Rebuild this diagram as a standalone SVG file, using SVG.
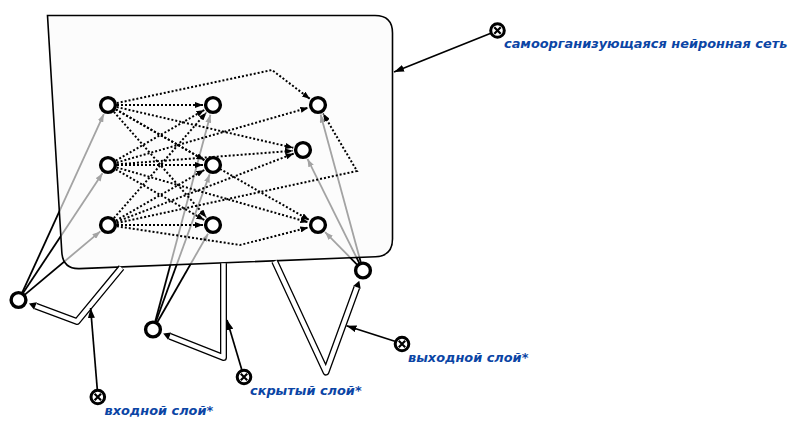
<svg xmlns="http://www.w3.org/2000/svg" width="798" height="427" viewBox="0 0 798 427">
<style>
.ext{stroke:#000;stroke-width:1.8;fill:none;marker-end:url(#ah)}
.dot{stroke:#000;stroke-width:2;stroke-dasharray:2 2;fill:none;marker-end:url(#ah)}
.lbl{stroke:#000;stroke-width:1.7;fill:none;marker-end:url(#ahL)}
.tubeO{stroke:#000;stroke-width:7;fill:none;stroke-linejoin:round;marker-end:url(#ahT)}
.tubeI{stroke:#fff;stroke-width:4.4;fill:none;stroke-linejoin:round}
.neuron{fill:#fff;stroke:#000;stroke-width:3.4}
.xring{fill:#fff;stroke:#000;stroke-width:3}
.xmark{stroke:#000;stroke-width:2.2}
.txt{font-family:"DejaVu Sans",sans-serif;font-weight:bold;font-style:italic;font-size:12.9px;fill:#0b45a5}
</style>
<defs>
<marker id="ah" viewBox="0 0 8 6" refX="8" refY="3" markerWidth="8" markerHeight="6" markerUnits="userSpaceOnUse" orient="auto"><path d="M0,0L8,3L0,6z" fill="#000"/></marker>
<marker id="ahL" viewBox="0 0 10 7" refX="10" refY="3.5" markerWidth="10" markerHeight="7" markerUnits="userSpaceOnUse" orient="auto"><path d="M0,0L10,3.5L0,7z" fill="#000"/></marker>
<marker id="ahT" viewBox="0 0 7 8" refX="0" refY="4" markerWidth="7" markerHeight="8" markerUnits="userSpaceOnUse" orient="auto"><path d="M0,0L7,4L0,8z" fill="#000"/></marker>
</defs>

<g id="external-links">
<path class="ext" d="M22.2,292.7L103.8,114.1"/>
<path class="ext" d="M22.9,293.3L102.5,173.3"/>
<path class="ext" d="M24.6,294.9L100.3,231.4"/>
<path class="ext" d="M155.1,322L210.4,114.7"/>
<path class="ext" d="M155.7,322.3L209.6,174.4"/>
<path class="ext" d="M157,322.8L208,233.7"/>
<path class="ext" d="M360.9,262.8L320.6,114.6"/>
<path class="ext" d="M359.4,263.3L307.5,158.9"/>
<path class="ext" d="M357.3,264.8L325.1,232.1"/>
</g>

<g id="som-network">
<path d="M47.5,15.5L375,15.5Q392.5,15.5 392.5,33L392.5,239Q392.5,256 375.5,256.8L79.5,268.6Q62.8,269.2 61.8,252Z" fill="#fbfbfb" fill-opacity="0.65" stroke="#000" stroke-width="1.6"/>
</g>

<g id="connectors">
<path class="dot" d="M117,105L203,105"/>
<path class="dot" d="M115.8,109.5L204.3,160"/>
<path class="dot" d="M113.9,111.8L206.4,217.5"/>
<path class="dot" d="M116.8,103.1L272,70L310,98.9"/>
<path class="dot" d="M116.8,107L293.3,147.8"/>
<path class="dot" d="M115.8,109.5L309.3,220"/>
<path class="dot" d="M115.8,160.5L204.3,110"/>
<path class="dot" d="M117,165L203,165"/>
<path class="dot" d="M115.8,169.5L204.3,220"/>
<path class="dot" d="M116.7,162.5L308.4,107.7"/>
<path class="dot" d="M117,164.3L293,150.8"/>
<path class="dot" d="M116.7,167.5L308.4,222.3"/>
<path class="dot" d="M113.9,218.2L206.4,112.5"/>
<path class="dot" d="M115.8,220.5L204.3,170"/>
<path class="dot" d="M117,225L203,225"/>
<path class="dot" d="M116.8,223.1L357,171L323.1,113.6"/>
<path class="dot" d="M116.4,221.8L293.7,153.6"/>
<path class="dot" d="M116.9,226.3L240,245L308.3,227.5"/>

<path class="tubeO" d="M121.5,267.6L77,321.5L35.5,306"/>
<path class="tubeI" d="M121.5,267.6L77,321.5L35.5,306"/>
<path class="tubeO" d="M223.5,263.3L223.5,357.5L169.7,336.2"/>
<path class="tubeI" d="M223.5,263.3L223.5,357.5L169.7,336.2"/>
<path class="tubeO" d="M274.6,261.2L326,372L356.9,287.3"/>
<path class="tubeI" d="M274.6,261.2L326,372L356.9,287.3"/>

<path class="lbl" d="M490.8,33.3L394,72"/>
<path class="lbl" d="M97.3,389.5L90.6,308"/>
<path class="lbl" d="M241.8,369.8L227,320"/>
<path class="lbl" d="M394.8,341.2L346.5,325.8"/>
</g>

<g id="A1"><circle class="neuron" cx="108" cy="105" r="7.4"/></g>
<g id="A2"><circle class="neuron" cx="108" cy="165" r="7.4"/></g>
<g id="A3"><circle class="neuron" cx="108" cy="225" r="7.4"/></g>
<g id="B1"><circle class="neuron" cx="213" cy="105" r="7.4"/></g>
<g id="B2"><circle class="neuron" cx="213" cy="165" r="7.4"/></g>
<g id="B3"><circle class="neuron" cx="213" cy="225" r="7.4"/></g>
<g id="C1"><circle class="neuron" cx="318" cy="105" r="7.4"/></g>
<g id="C2"><circle class="neuron" cx="303" cy="150" r="7.4"/></g>
<g id="C3"><circle class="neuron" cx="318" cy="225" r="7.4"/></g>
<g id="input-node"><circle class="neuron" cx="18.5" cy="300" r="7.4"/></g>
<g id="hidden-node"><circle class="neuron" cx="153" cy="329.5" r="7.4"/></g>
<g id="output-node"><circle class="neuron" cx="363" cy="270.5" r="7.4"/></g>

<g id="label-som">
<circle class="xring" cx="497.5" cy="30.5" r="6.8"/>
<path class="xmark" d="M494.3,27.3L500.7,33.7M500.7,27.3L494.3,33.7"/>
<text class="txt" x="504" y="47.7">самоорганизующаяся нейронная сеть</text>
</g>
<g id="label-input">
<circle class="xring" cx="97.8" cy="397" r="6.8"/>
<path class="xmark" d="M94.6,393.8L101,400.2M101,393.8L94.6,400.2"/>
<text class="txt" x="104.5" y="415">входной слой*</text>
</g>
<g id="label-hidden">
<circle class="xring" cx="244" cy="377" r="6.8"/>
<path class="xmark" d="M240.8,373.8L247.2,380.2M247.2,373.8L240.8,380.2"/>
<text class="txt" x="250" y="395">скрытый слой*</text>
</g>
<g id="label-output">
<circle class="xring" cx="402" cy="344" r="6.8"/>
<path class="xmark" d="M398.8,340.8L405.2,347.2M405.2,340.8L398.8,347.2"/>
<text class="txt" x="408" y="361.7">выходной слой*</text>
</g>
</svg>
